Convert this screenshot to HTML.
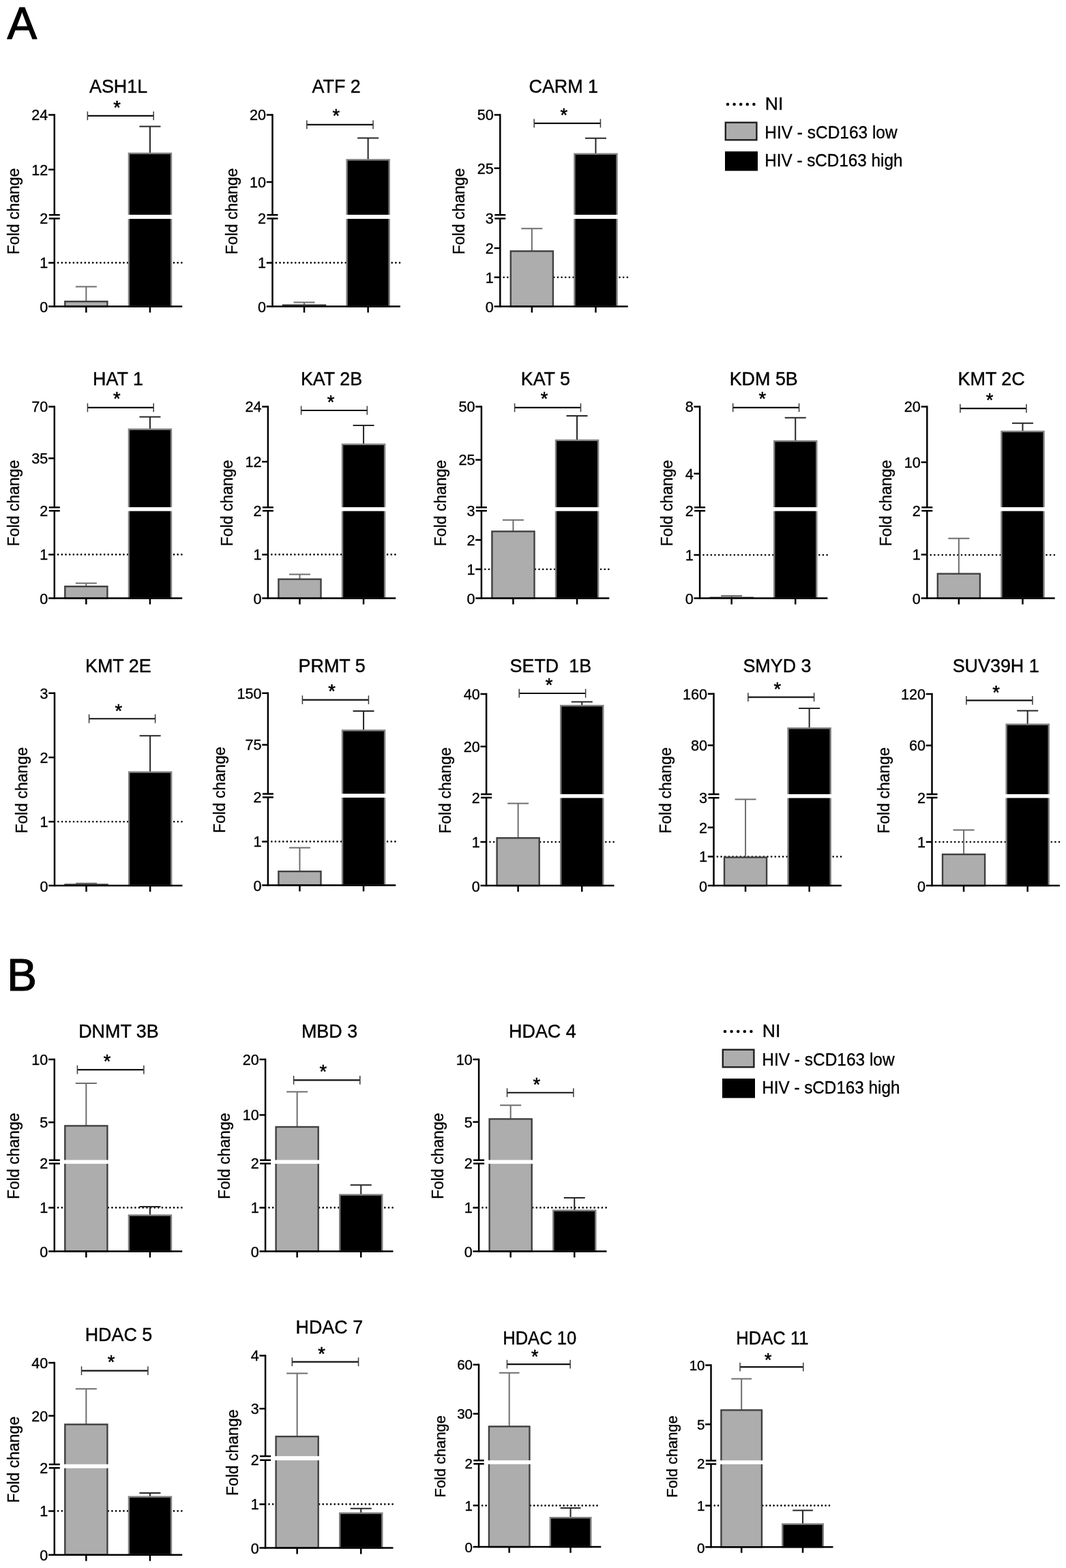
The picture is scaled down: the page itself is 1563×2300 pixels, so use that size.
<!DOCTYPE html>
<html lang="en">
<head>
<meta charset="utf-8">
<title>Figure</title>
<style>
html,body{margin:0;padding:0;background:#fff}
body{width:1563px;height:2300px;overflow:hidden}
svg{display:block}
svg text{font-family:'Liberation Sans', sans-serif;fill:#000}
svg text.k{stroke:#000;stroke-width:.35px}
svg text.t{stroke:#000;stroke-width:.4px}
svg text.a{stroke:#000;stroke-width:.55px}
svg text.p{stroke:#000;stroke-width:1.2px;stroke-linejoin:round}
</style>
</head>
<body>
<svg width="1563" height="2300" viewBox="0 0 1563 2300">
<rect width="1563" height="2300" fill="#fff"/>
<text transform="translate(10.6 56.9) scale(1 1.02)" font-size="65.5" class="p">A</text>
<text transform="translate(10.2 1452.7) scale(1 1.03)" font-size="65.5" class="p">B</text>
<g>
<line x1="85.2" y1="385.4" x2="266.8" y2="385.4" stroke="#000" stroke-width="2.6" stroke-linecap="round" stroke-dasharray="0.01 5.65"/>
<path d="M126.35 442V420.4M110.85 420.4H141.85" fill="none" stroke="#6e6e6e" stroke-width="2"/>
<path d="M219.95 224.8V185.6M204.45 185.6H235.45" fill="none" stroke="#262626" stroke-width="2"/>
<rect x="95.3" y="442.2" width="62.1" height="7.4" fill="#adadad" stroke="#404040" stroke-width="2.4"/>
<rect x="188.9" y="225" width="62.1" height="224.6" fill="#000000" stroke="#808080" stroke-width="2.4"/>
<rect x="186.7" y="315" width="66.5" height="6" fill="#fff"/>
<path d="M79.8 167.25V315.2M79.8 320.6V450.85" fill="none" stroke="#000" stroke-width="2.5"/>
<path d="M71.8 315.2H87.8M71.8 320.6H87.8" fill="none" stroke="#000" stroke-width="2.5"/>
<path d="M71.1 449.6H267.2" fill="none" stroke="#000" stroke-width="2.5"/>
<path d="M71.1 168.5H79.8M71.1 248.7H79.8M71.1 385.4H79.8M126.35 449.6V458.6M219.95 449.6V458.6" fill="none" stroke="#000" stroke-width="2.5"/>
<text x="70.36" y="176.34" font-size="21.6" text-anchor="end" class="k">24</text>
<text x="70.36" y="256.54" font-size="21.6" text-anchor="end" class="k">12</text>
<text x="70.36" y="328.04" font-size="21.6" text-anchor="end" class="k">2</text>
<text x="70.36" y="393.24" font-size="21.6" text-anchor="end" class="k">1</text>
<text x="70.36" y="458.24" font-size="21.6" text-anchor="end" class="k">0</text>
<text transform="translate(19.8 309.9) rotate(-90)" x="0" y="8" font-size="23" text-anchor="middle" class="k">Fold change</text>
<text transform="translate(173.56 135.7) scale(1 1.05)" font-size="26.9" text-anchor="middle" class="t" style="white-space:pre">ASH1L</text>
<path d="M128.36 169.87H225.19" fill="none" stroke="#111" stroke-width="2.2"/>
<path d="M128.36 163.47V176.27M225.19 163.47V176.27" fill="none" stroke="#3a3a3a" stroke-width="1.5"/>
<text x="171.53" y="166.68" font-size="27.3" text-anchor="middle" class="a">*</text>
</g>
<g>
<line x1="404.9" y1="385.4" x2="586.5" y2="385.4" stroke="#000" stroke-width="2.6" stroke-linecap="round" stroke-dasharray="0.01 5.65"/>
<path d="M446.05 447.4V443.4M430.55 443.4H461.55" fill="none" stroke="#6e6e6e" stroke-width="2"/>
<path d="M539.65 234.2V202.5M524.15 202.5H555.15" fill="none" stroke="#262626" stroke-width="2"/>
<rect x="413.8" y="446.4" width="64.5" height="3.2" fill="#404040"/>
<rect x="508.6" y="234.4" width="62.1" height="215.2" fill="#000000" stroke="#808080" stroke-width="2.4"/>
<rect x="506.4" y="315" width="66.5" height="6" fill="#fff"/>
<path d="M399.5 167.25V315.2M399.5 320.6V450.85" fill="none" stroke="#000" stroke-width="2.5"/>
<path d="M391.5 315.2H407.5M391.5 320.6H407.5" fill="none" stroke="#000" stroke-width="2.5"/>
<path d="M390.8 449.6H586.9" fill="none" stroke="#000" stroke-width="2.5"/>
<path d="M390.8 168.5H399.5M390.8 267H399.5M390.8 385.4H399.5M446.05 449.6V458.6M539.65 449.6V458.6" fill="none" stroke="#000" stroke-width="2.5"/>
<text x="390.06" y="176.34" font-size="21.6" text-anchor="end" class="k">20</text>
<text x="390.06" y="274.84" font-size="21.6" text-anchor="end" class="k">10</text>
<text x="390.06" y="328.04" font-size="21.6" text-anchor="end" class="k">2</text>
<text x="390.06" y="393.24" font-size="21.6" text-anchor="end" class="k">1</text>
<text x="390.06" y="458.24" font-size="21.6" text-anchor="end" class="k">0</text>
<text transform="translate(339.5 309.9) rotate(-90)" x="0" y="8" font-size="23" text-anchor="middle" class="k">Fold change</text>
<text transform="translate(493.13 135.7) scale(1 1.05)" font-size="26.9" text-anchor="middle" class="t" style="white-space:pre">ATF 2</text>
<path d="M449.87 182.93H547.06" fill="none" stroke="#111" stroke-width="2.2"/>
<path d="M449.87 176.53V189.33M547.06 176.53V189.33" fill="none" stroke="#3a3a3a" stroke-width="1.5"/>
<text x="492.87" y="179.16" font-size="27.3" text-anchor="middle" class="a">*</text>
</g>
<g>
<line x1="738.7" y1="406.8" x2="920.3" y2="406.8" stroke="#000" stroke-width="2.6" stroke-linecap="round" stroke-dasharray="0.01 5.65"/>
<path d="M779.85 368.2V335.3M764.35 335.3H795.35" fill="none" stroke="#6e6e6e" stroke-width="2"/>
<path d="M873.45 225.6V202.7M857.95 202.7H888.95" fill="none" stroke="#262626" stroke-width="2"/>
<rect x="748.8" y="368.4" width="62.1" height="81.2" fill="#adadad" stroke="#404040" stroke-width="2.4"/>
<rect x="842.4" y="225.8" width="62.1" height="223.8" fill="#000000" stroke="#808080" stroke-width="2.4"/>
<rect x="840.2" y="315" width="66.5" height="6" fill="#fff"/>
<path d="M733.3 167.25V315.2M733.3 320.6V450.85" fill="none" stroke="#000" stroke-width="2.5"/>
<path d="M725.3 315.2H741.3M725.3 320.6H741.3" fill="none" stroke="#000" stroke-width="2.5"/>
<path d="M724.6 449.6H920.7" fill="none" stroke="#000" stroke-width="2.5"/>
<path d="M724.6 168.5H733.3M724.6 246.8H733.3M724.6 363.9H733.3M724.6 406.8H733.3M779.85 449.6V458.6M873.45 449.6V458.6" fill="none" stroke="#000" stroke-width="2.5"/>
<text x="723.86" y="176.34" font-size="21.6" text-anchor="end" class="k">50</text>
<text x="723.86" y="254.64" font-size="21.6" text-anchor="end" class="k">25</text>
<text x="723.86" y="328.04" font-size="21.6" text-anchor="end" class="k">3</text>
<text x="723.86" y="371.74" font-size="21.6" text-anchor="end" class="k">2</text>
<text x="723.86" y="414.64" font-size="21.6" text-anchor="end" class="k">1</text>
<text x="723.86" y="458.24" font-size="21.6" text-anchor="end" class="k">0</text>
<text transform="translate(673.3 309.9) rotate(-90)" x="0" y="8" font-size="23" text-anchor="middle" class="k">Fold change</text>
<text transform="translate(826.26 135.7) scale(1 1.05)" font-size="26.9" text-anchor="middle" class="t" style="white-space:pre">CARM 1</text>
<path d="M783.16 180.96H880.43" fill="none" stroke="#111" stroke-width="2.2"/>
<path d="M783.16 174.56V187.36M880.43 174.56V187.36" fill="none" stroke="#3a3a3a" stroke-width="1.5"/>
<text x="826.87" y="177.64" font-size="27.3" text-anchor="middle" class="a">*</text>
</g>
<g>
<line x1="85.2" y1="813.4" x2="266.8" y2="813.4" stroke="#000" stroke-width="2.6" stroke-linecap="round" stroke-dasharray="0.01 5.65"/>
<path d="M126.35 860V855.4M110.85 855.4H141.85" fill="none" stroke="#6e6e6e" stroke-width="2"/>
<path d="M219.95 629.5V611.5M204.45 611.5H235.45" fill="none" stroke="#262626" stroke-width="2"/>
<rect x="95.3" y="860.2" width="62.1" height="17.4" fill="#adadad" stroke="#404040" stroke-width="2.4"/>
<rect x="188.9" y="629.7" width="62.1" height="247.9" fill="#000000" stroke="#808080" stroke-width="2.4"/>
<rect x="186.7" y="744" width="66.5" height="5.7" fill="#fff"/>
<path d="M79.8 595.25V744.2M79.8 749.3V878.85" fill="none" stroke="#000" stroke-width="2.5"/>
<path d="M71.8 744.2H87.8M71.8 749.3H87.8" fill="none" stroke="#000" stroke-width="2.5"/>
<path d="M71.1 877.6H267.2" fill="none" stroke="#000" stroke-width="2.5"/>
<path d="M71.1 596.5H79.8M71.1 672.2H79.8M71.1 813.4H79.8M126.35 877.6V886.6M219.95 877.6V886.6" fill="none" stroke="#000" stroke-width="2.5"/>
<text x="70.36" y="604.34" font-size="21.6" text-anchor="end" class="k">70</text>
<text x="70.36" y="680.04" font-size="21.6" text-anchor="end" class="k">35</text>
<text x="70.36" y="756.74" font-size="21.6" text-anchor="end" class="k">2</text>
<text x="70.36" y="821.24" font-size="21.6" text-anchor="end" class="k">1</text>
<text x="70.36" y="886.24" font-size="21.6" text-anchor="end" class="k">0</text>
<text transform="translate(19.8 737.9) rotate(-90)" x="0" y="8" font-size="23" text-anchor="middle" class="k">Fold change</text>
<text transform="translate(172.98 564.8) scale(1 1.05)" font-size="26.9" text-anchor="middle" class="t" style="white-space:pre">HAT 1</text>
<path d="M128.42 597.88H225.16" fill="none" stroke="#111" stroke-width="2.2"/>
<path d="M128.42 591.48V604.28M225.16 591.48V604.28" fill="none" stroke="#3a3a3a" stroke-width="1.5"/>
<text x="171.28" y="594.07" font-size="27.3" text-anchor="middle" class="a">*</text>
</g>
<g>
<line x1="398.3" y1="813.4" x2="579.9" y2="813.4" stroke="#000" stroke-width="2.6" stroke-linecap="round" stroke-dasharray="0.01 5.65"/>
<path d="M439.45 849.4V842.4M423.95 842.4H454.95" fill="none" stroke="#6e6e6e" stroke-width="2"/>
<path d="M533.05 651.6V624.1M517.55 624.1H548.55" fill="none" stroke="#262626" stroke-width="2"/>
<rect x="408.4" y="849.6" width="62.1" height="28" fill="#adadad" stroke="#404040" stroke-width="2.4"/>
<rect x="502" y="651.8" width="62.1" height="225.8" fill="#000000" stroke="#808080" stroke-width="2.4"/>
<rect x="499.8" y="744" width="66.5" height="5.7" fill="#fff"/>
<path d="M392.9 595.25V744.2M392.9 749.3V878.85" fill="none" stroke="#000" stroke-width="2.5"/>
<path d="M384.9 744.2H400.9M384.9 749.3H400.9" fill="none" stroke="#000" stroke-width="2.5"/>
<path d="M384.2 877.6H580.3" fill="none" stroke="#000" stroke-width="2.5"/>
<path d="M384.2 596.5H392.9M384.2 677.2H392.9M384.2 813.4H392.9M439.45 877.6V886.6M533.05 877.6V886.6" fill="none" stroke="#000" stroke-width="2.5"/>
<text x="383.46" y="604.34" font-size="21.6" text-anchor="end" class="k">24</text>
<text x="383.46" y="685.04" font-size="21.6" text-anchor="end" class="k">12</text>
<text x="383.46" y="756.74" font-size="21.6" text-anchor="end" class="k">2</text>
<text x="383.46" y="821.24" font-size="21.6" text-anchor="end" class="k">1</text>
<text x="383.46" y="886.24" font-size="21.6" text-anchor="end" class="k">0</text>
<text transform="translate(332.9 737.9) rotate(-90)" x="0" y="8" font-size="23" text-anchor="middle" class="k">Fold change</text>
<text transform="translate(485.98 564.8) scale(1 1.05)" font-size="26.9" text-anchor="middle" class="t" style="white-space:pre">KAT 2B</text>
<path d="M441.6 602H538.34" fill="none" stroke="#111" stroke-width="2.2"/>
<path d="M441.6 595.6V608.4M538.34 595.6V608.4" fill="none" stroke="#3a3a3a" stroke-width="1.5"/>
<text x="484.96" y="598.68" font-size="27.3" text-anchor="middle" class="a">*</text>
</g>
<g>
<line x1="711.3" y1="835" x2="892.9" y2="835" stroke="#000" stroke-width="2.6" stroke-linecap="round" stroke-dasharray="0.01 5.65"/>
<path d="M752.45 779.3V762.7M736.95 762.7H767.95" fill="none" stroke="#6e6e6e" stroke-width="2"/>
<path d="M846.05 645.6V610.1M830.55 610.1H861.55" fill="none" stroke="#262626" stroke-width="2"/>
<rect x="721.4" y="779.5" width="62.1" height="98.1" fill="#adadad" stroke="#404040" stroke-width="2.4"/>
<rect x="815" y="645.8" width="62.1" height="231.8" fill="#000000" stroke="#808080" stroke-width="2.4"/>
<rect x="812.8" y="744" width="66.5" height="5.7" fill="#fff"/>
<path d="M705.9 595.25V744.2M705.9 749.3V878.85" fill="none" stroke="#000" stroke-width="2.5"/>
<path d="M697.9 744.2H713.9M697.9 749.3H713.9" fill="none" stroke="#000" stroke-width="2.5"/>
<path d="M697.2 877.6H893.3" fill="none" stroke="#000" stroke-width="2.5"/>
<path d="M697.2 596.5H705.9M697.2 674.6H705.9M697.2 792H705.9M697.2 835H705.9M752.45 877.6V886.6M846.05 877.6V886.6" fill="none" stroke="#000" stroke-width="2.5"/>
<text x="696.46" y="604.34" font-size="21.6" text-anchor="end" class="k">50</text>
<text x="696.46" y="682.44" font-size="21.6" text-anchor="end" class="k">25</text>
<text x="696.46" y="756.74" font-size="21.6" text-anchor="end" class="k">3</text>
<text x="696.46" y="799.84" font-size="21.6" text-anchor="end" class="k">2</text>
<text x="696.46" y="842.84" font-size="21.6" text-anchor="end" class="k">1</text>
<text x="696.46" y="886.24" font-size="21.6" text-anchor="end" class="k">0</text>
<text transform="translate(645.9 737.9) rotate(-90)" x="0" y="8" font-size="23" text-anchor="middle" class="k">Fold change</text>
<text transform="translate(799.83 564.8) scale(1 1.05)" font-size="26.9" text-anchor="middle" class="t" style="white-space:pre">KAT 5</text>
<path d="M754.59 597.97H851.48" fill="none" stroke="#111" stroke-width="2.2"/>
<path d="M754.59 591.57V604.37M851.48 591.57V604.37" fill="none" stroke="#3a3a3a" stroke-width="1.5"/>
<text x="797.97" y="594.01" font-size="27.3" text-anchor="middle" class="a">*</text>
</g>
<g>
<line x1="1031.5" y1="814" x2="1213.1" y2="814" stroke="#000" stroke-width="2.6" stroke-linecap="round" stroke-dasharray="0.01 5.65"/>
<path d="M1072.65 876.5V874M1057.15 874H1088.15" fill="none" stroke="#6e6e6e" stroke-width="2"/>
<path d="M1166.25 646.8V612.7M1150.75 612.7H1181.75" fill="none" stroke="#262626" stroke-width="2"/>
<rect x="1040.4" y="875.5" width="64.5" height="2.1" fill="#404040"/>
<rect x="1135.2" y="647" width="62.1" height="230.6" fill="#000000" stroke="#808080" stroke-width="2.4"/>
<rect x="1133" y="744" width="66.5" height="5.7" fill="#fff"/>
<path d="M1026.1 595.25V744.2M1026.1 749.3V878.85" fill="none" stroke="#000" stroke-width="2.5"/>
<path d="M1018.1 744.2H1034.1M1018.1 749.3H1034.1" fill="none" stroke="#000" stroke-width="2.5"/>
<path d="M1017.4 877.6H1213.5" fill="none" stroke="#000" stroke-width="2.5"/>
<path d="M1017.4 596.5H1026.1M1017.4 694.8H1026.1M1017.4 814H1026.1M1072.65 877.6V886.6M1166.25 877.6V886.6" fill="none" stroke="#000" stroke-width="2.5"/>
<text x="1016.66" y="604.34" font-size="21.6" text-anchor="end" class="k">8</text>
<text x="1016.66" y="702.64" font-size="21.6" text-anchor="end" class="k">4</text>
<text x="1016.66" y="756.74" font-size="21.6" text-anchor="end" class="k">2</text>
<text x="1016.66" y="821.84" font-size="21.6" text-anchor="end" class="k">1</text>
<text x="1016.66" y="886.24" font-size="21.6" text-anchor="end" class="k">0</text>
<text transform="translate(978.4 737.9) rotate(-90)" x="0" y="8" font-size="23" text-anchor="middle" class="k">Fold change</text>
<text transform="translate(1119.72 564.8) scale(1 1.05)" font-size="26.9" text-anchor="middle" class="t" style="white-space:pre">KDM 5B</text>
<path d="M1074.69 597.88H1171.61" fill="none" stroke="#111" stroke-width="2.2"/>
<path d="M1074.69 591.48V604.28M1171.61 591.48V604.28" fill="none" stroke="#3a3a3a" stroke-width="1.5"/>
<text x="1117.87" y="594.07" font-size="27.3" text-anchor="middle" class="a">*</text>
</g>
<g>
<line x1="1364.7" y1="814" x2="1546.3" y2="814" stroke="#000" stroke-width="2.6" stroke-linecap="round" stroke-dasharray="0.01 5.65"/>
<path d="M1405.85 841.4V789.7M1390.35 789.7H1421.35" fill="none" stroke="#6e6e6e" stroke-width="2"/>
<path d="M1499.45 632.7V620.7M1483.95 620.7H1514.95" fill="none" stroke="#262626" stroke-width="2"/>
<rect x="1374.8" y="841.6" width="62.1" height="36" fill="#adadad" stroke="#404040" stroke-width="2.4"/>
<rect x="1468.4" y="632.9" width="62.1" height="244.7" fill="#000000" stroke="#808080" stroke-width="2.4"/>
<rect x="1466.2" y="744" width="66.5" height="5.7" fill="#fff"/>
<path d="M1359.3 595.25V744.2M1359.3 749.3V878.85" fill="none" stroke="#000" stroke-width="2.5"/>
<path d="M1351.3 744.2H1367.3M1351.3 749.3H1367.3" fill="none" stroke="#000" stroke-width="2.5"/>
<path d="M1350.6 877.6H1546.7" fill="none" stroke="#000" stroke-width="2.5"/>
<path d="M1350.6 596.5H1359.3M1350.6 677.9H1359.3M1350.6 813.6H1359.3M1405.85 877.6V886.6M1499.45 877.6V886.6" fill="none" stroke="#000" stroke-width="2.5"/>
<text x="1349.86" y="604.34" font-size="21.6" text-anchor="end" class="k">20</text>
<text x="1349.86" y="685.74" font-size="21.6" text-anchor="end" class="k">10</text>
<text x="1349.86" y="756.74" font-size="21.6" text-anchor="end" class="k">2</text>
<text x="1349.86" y="821.44" font-size="21.6" text-anchor="end" class="k">1</text>
<text x="1349.86" y="886.24" font-size="21.6" text-anchor="end" class="k">0</text>
<text transform="translate(1299.3 737.9) rotate(-90)" x="0" y="8" font-size="23" text-anchor="middle" class="k">Fold change</text>
<text transform="translate(1453.63 564.8) scale(1 1.05)" font-size="26.9" text-anchor="middle" class="t" style="white-space:pre">KMT 2C</text>
<path d="M1407.87 599.05H1504.88" fill="none" stroke="#111" stroke-width="2.2"/>
<path d="M1407.87 592.65V605.45M1504.88 592.65V605.45" fill="none" stroke="#3a3a3a" stroke-width="1.5"/>
<text x="1451.18" y="595.59" font-size="27.3" text-anchor="middle" class="a">*</text>
</g>
<g>
<line x1="85.4" y1="1205.3" x2="267" y2="1205.3" stroke="#000" stroke-width="2.6" stroke-linecap="round" stroke-dasharray="0.01 5.65"/>
<path d="M126.55 1297.3V1295.7M111.05 1295.7H142.05" fill="none" stroke="#6e6e6e" stroke-width="2"/>
<path d="M220.15 1132.4V1079.3M204.65 1079.3H235.65" fill="none" stroke="#262626" stroke-width="2"/>
<rect x="94.3" y="1296.3" width="64.5" height="2.7" fill="#404040"/>
<rect x="189.1" y="1132.6" width="62.1" height="166.4" fill="#000000" stroke="#808080" stroke-width="2.4"/>
<path d="M80 1015.45V1300.25" fill="none" stroke="#000" stroke-width="2.5"/>
<path d="M71.3 1299H267.4" fill="none" stroke="#000" stroke-width="2.5"/>
<path d="M71.3 1016.7H80M71.3 1110.9H80M71.3 1205.3H80M126.55 1299V1308M220.15 1299V1308" fill="none" stroke="#000" stroke-width="2.5"/>
<text x="70.56" y="1024.54" font-size="21.6" text-anchor="end" class="k">3</text>
<text x="70.56" y="1118.74" font-size="21.6" text-anchor="end" class="k">2</text>
<text x="70.56" y="1213.14" font-size="21.6" text-anchor="end" class="k">1</text>
<text x="70.56" y="1307.64" font-size="21.6" text-anchor="end" class="k">0</text>
<text transform="translate(32.3 1159.3) rotate(-90)" x="0" y="8" font-size="23" text-anchor="middle" class="k">Fold change</text>
<text transform="translate(173.3 986.15) scale(1 1.05)" font-size="26.9" text-anchor="middle" class="t" style="white-space:pre">KMT 2E</text>
<path d="M130.6 1054.25H227.61" fill="none" stroke="#111" stroke-width="2.2"/>
<path d="M130.6 1047.85V1060.65M227.61 1047.85V1060.65" fill="none" stroke="#3a3a3a" stroke-width="1.5"/>
<text x="173.69" y="1051.55" font-size="27.3" text-anchor="middle" class="a">*</text>
</g>
<g>
<line x1="398.3" y1="1234.4" x2="579.9" y2="1234.4" stroke="#000" stroke-width="2.6" stroke-linecap="round" stroke-dasharray="0.01 5.65"/>
<path d="M439.45 1278V1243.4M423.95 1243.4H454.95" fill="none" stroke="#6e6e6e" stroke-width="2"/>
<path d="M533.05 1071.2V1043.1M517.55 1043.1H548.55" fill="none" stroke="#262626" stroke-width="2"/>
<rect x="408.4" y="1278.2" width="62.1" height="20.3" fill="#adadad" stroke="#404040" stroke-width="2.4"/>
<rect x="502" y="1071.4" width="62.1" height="227.1" fill="#000000" stroke="#808080" stroke-width="2.4"/>
<rect x="499.8" y="1164.3" width="66.5" height="5.7" fill="#fff"/>
<path d="M392.9 1015.45V1164.5M392.9 1169.6V1299.75" fill="none" stroke="#000" stroke-width="2.5"/>
<path d="M384.9 1164.5H400.9M384.9 1169.6H400.9" fill="none" stroke="#000" stroke-width="2.5"/>
<path d="M384.2 1298.5H580.3" fill="none" stroke="#000" stroke-width="2.5"/>
<path d="M384.2 1016.7H392.9M384.2 1092.6H392.9M384.2 1234.4H392.9M439.45 1298.5V1307.5M533.05 1298.5V1307.5" fill="none" stroke="#000" stroke-width="2.5"/>
<text x="383.46" y="1024.54" font-size="21.6" text-anchor="end" class="k">150</text>
<text x="383.46" y="1100.44" font-size="21.6" text-anchor="end" class="k">75</text>
<text x="383.46" y="1177.04" font-size="21.6" text-anchor="end" class="k">2</text>
<text x="383.46" y="1242.24" font-size="21.6" text-anchor="end" class="k">1</text>
<text x="383.46" y="1307.14" font-size="21.6" text-anchor="end" class="k">0</text>
<text transform="translate(321.9 1158.8) rotate(-90)" x="0" y="8" font-size="23" text-anchor="middle" class="k">Fold change</text>
<text transform="translate(486.59 986.15) scale(1 1.05)" font-size="26.9" text-anchor="middle" class="t" style="white-space:pre">PRMT 5</text>
<path d="M443.42 1026.66H540.43" fill="none" stroke="#111" stroke-width="2.2"/>
<path d="M443.42 1020.26V1033.06M540.43 1020.26V1033.06" fill="none" stroke="#3a3a3a" stroke-width="1.5"/>
<text x="486.55" y="1023.38" font-size="27.3" text-anchor="middle" class="a">*</text>
</g>
<g>
<line x1="718.5" y1="1235" x2="900.1" y2="1235" stroke="#000" stroke-width="2.6" stroke-linecap="round" stroke-dasharray="0.01 5.65"/>
<path d="M759.65 1229V1178.5M744.15 1178.5H775.15" fill="none" stroke="#6e6e6e" stroke-width="2"/>
<path d="M853.25 1034.9V1029.5M837.75 1029.5H868.75" fill="none" stroke="#262626" stroke-width="2"/>
<rect x="728.6" y="1229.2" width="62.1" height="69.9" fill="#adadad" stroke="#404040" stroke-width="2.4"/>
<rect x="822.2" y="1035.1" width="62.1" height="264" fill="#000000" stroke="#808080" stroke-width="2.4"/>
<rect x="820" y="1164.9" width="66.5" height="5.6" fill="#fff"/>
<path d="M713.1 1016.75V1165.1M713.1 1170.1V1300.35" fill="none" stroke="#000" stroke-width="2.5"/>
<path d="M705.1 1165.1H721.1M705.1 1170.1H721.1" fill="none" stroke="#000" stroke-width="2.5"/>
<path d="M704.4 1299.1H900.5" fill="none" stroke="#000" stroke-width="2.5"/>
<path d="M704.4 1018H713.1M704.4 1095.1H713.1M704.4 1235H713.1M759.65 1299.1V1308.1M853.25 1299.1V1308.1" fill="none" stroke="#000" stroke-width="2.5"/>
<text x="703.66" y="1025.84" font-size="21.6" text-anchor="end" class="k">40</text>
<text x="703.66" y="1102.94" font-size="21.6" text-anchor="end" class="k">20</text>
<text x="703.66" y="1177.54" font-size="21.6" text-anchor="end" class="k">2</text>
<text x="703.66" y="1242.84" font-size="21.6" text-anchor="end" class="k">1</text>
<text x="703.66" y="1307.74" font-size="21.6" text-anchor="end" class="k">0</text>
<text transform="translate(653.1 1159.4) rotate(-90)" x="0" y="8" font-size="23" text-anchor="middle" class="k">Fold change</text>
<text transform="translate(807.34 986.15) scale(1 1.05)" font-size="26.9" text-anchor="middle" class="t" style="white-space:pre">SETD  1B</text>
<path d="M761.25 1016.98H858.61" fill="none" stroke="#111" stroke-width="2.2"/>
<path d="M761.25 1010.58V1023.38M858.61 1010.58V1023.38" fill="none" stroke="#3a3a3a" stroke-width="1.5"/>
<text x="805.05" y="1013.8" font-size="27.3" text-anchor="middle" class="a">*</text>
</g>
<g>
<line x1="1051.9" y1="1256.6" x2="1233.5" y2="1256.6" stroke="#000" stroke-width="2.6" stroke-linecap="round" stroke-dasharray="0.01 5.65"/>
<path d="M1093.05 1257.4V1172.6M1077.55 1172.6H1108.55" fill="none" stroke="#6e6e6e" stroke-width="2"/>
<path d="M1186.65 1068V1039M1171.15 1039H1202.15" fill="none" stroke="#262626" stroke-width="2"/>
<rect x="1062" y="1257.6" width="62.1" height="41.5" fill="#adadad" stroke="#404040" stroke-width="2.4"/>
<rect x="1155.6" y="1068.2" width="62.1" height="230.9" fill="#000000" stroke="#808080" stroke-width="2.4"/>
<rect x="1153.4" y="1164.9" width="66.5" height="5.7" fill="#fff"/>
<path d="M1046.5 1016.55V1165.1M1046.5 1170.2V1300.35" fill="none" stroke="#000" stroke-width="2.5"/>
<path d="M1038.5 1165.1H1054.5M1038.5 1170.2H1054.5" fill="none" stroke="#000" stroke-width="2.5"/>
<path d="M1037.8 1299.1H1233.9" fill="none" stroke="#000" stroke-width="2.5"/>
<path d="M1037.8 1017.8H1046.5M1037.8 1093.3H1046.5M1037.8 1213.8H1046.5M1037.8 1256.5H1046.5M1093.05 1299.1V1308.1M1186.65 1299.1V1308.1" fill="none" stroke="#000" stroke-width="2.5"/>
<text x="1037.06" y="1025.64" font-size="21.6" text-anchor="end" class="k">160</text>
<text x="1037.06" y="1101.14" font-size="21.6" text-anchor="end" class="k">80</text>
<text x="1037.06" y="1177.64" font-size="21.6" text-anchor="end" class="k">3</text>
<text x="1037.06" y="1221.64" font-size="21.6" text-anchor="end" class="k">2</text>
<text x="1037.06" y="1264.34" font-size="21.6" text-anchor="end" class="k">1</text>
<text x="1037.06" y="1307.74" font-size="21.6" text-anchor="end" class="k">0</text>
<text transform="translate(975.5 1159.4) rotate(-90)" x="0" y="8" font-size="23" text-anchor="middle" class="k">Fold change</text>
<text transform="translate(1139.47 986.15) scale(1 1.05)" font-size="26.9" text-anchor="middle" class="t" style="white-space:pre">SMYD 3</text>
<path d="M1096.87 1022.63H1193.61" fill="none" stroke="#111" stroke-width="2.2"/>
<path d="M1096.87 1016.23V1029.03M1193.61 1016.23V1029.03" fill="none" stroke="#3a3a3a" stroke-width="1.5"/>
<text x="1139.78" y="1020.34" font-size="27.3" text-anchor="middle" class="a">*</text>
</g>
<g>
<line x1="1371.9" y1="1235" x2="1553.5" y2="1235" stroke="#000" stroke-width="2.6" stroke-linecap="round" stroke-dasharray="0.01 5.65"/>
<path d="M1413.05 1253V1217.4M1397.55 1217.4H1428.55" fill="none" stroke="#6e6e6e" stroke-width="2"/>
<path d="M1506.65 1062.4V1042.6M1491.15 1042.6H1522.15" fill="none" stroke="#262626" stroke-width="2"/>
<rect x="1382" y="1253.2" width="62.1" height="45.9" fill="#adadad" stroke="#404040" stroke-width="2.4"/>
<rect x="1475.6" y="1062.6" width="62.1" height="236.5" fill="#000000" stroke="#808080" stroke-width="2.4"/>
<rect x="1473.4" y="1164.9" width="66.5" height="5.6" fill="#fff"/>
<path d="M1366.5 1016.75V1165.1M1366.5 1170.1V1300.35" fill="none" stroke="#000" stroke-width="2.5"/>
<path d="M1358.5 1165.1H1374.5M1358.5 1170.1H1374.5" fill="none" stroke="#000" stroke-width="2.5"/>
<path d="M1357.8 1299.1H1553.9" fill="none" stroke="#000" stroke-width="2.5"/>
<path d="M1357.8 1018H1366.5M1357.8 1093.4H1366.5M1357.8 1235H1366.5M1413.05 1299.1V1308.1M1506.65 1299.1V1308.1" fill="none" stroke="#000" stroke-width="2.5"/>
<text x="1357.06" y="1025.84" font-size="21.6" text-anchor="end" class="k">120</text>
<text x="1357.06" y="1101.24" font-size="21.6" text-anchor="end" class="k">60</text>
<text x="1357.06" y="1177.54" font-size="21.6" text-anchor="end" class="k">2</text>
<text x="1357.06" y="1242.84" font-size="21.6" text-anchor="end" class="k">1</text>
<text x="1357.06" y="1307.74" font-size="21.6" text-anchor="end" class="k">0</text>
<text transform="translate(1295.5 1159.4) rotate(-90)" x="0" y="8" font-size="23" text-anchor="middle" class="k">Fold change</text>
<text transform="translate(1460.16 986.15) scale(1 1.05)" font-size="26.9" text-anchor="middle" class="t" style="white-space:pre">SUV39H 1</text>
<path d="M1416.87 1027.38H1513.88" fill="none" stroke="#111" stroke-width="2.2"/>
<path d="M1416.87 1020.98V1033.78M1513.88 1020.98V1033.78" fill="none" stroke="#3a3a3a" stroke-width="1.5"/>
<text x="1460.58" y="1024.95" font-size="27.3" text-anchor="middle" class="a">*</text>
</g>
<g>
<line x1="85.2" y1="1771.4" x2="266.8" y2="1771.4" stroke="#000" stroke-width="2.6" stroke-linecap="round" stroke-dasharray="0.01 5.65"/>
<path d="M126.35 1651.2V1589.1M110.85 1589.1H141.85" fill="none" stroke="#6e6e6e" stroke-width="2"/>
<path d="M219.95 1782.4V1770M204.45 1770H235.45" fill="none" stroke="#262626" stroke-width="2"/>
<rect x="95.3" y="1651.4" width="62.1" height="184.1" fill="#adadad" stroke="#404040" stroke-width="2.4"/>
<rect x="93.1" y="1701.5" width="66.5" height="5.6" fill="#fff"/>
<rect x="188.9" y="1782.6" width="62.1" height="52.9" fill="#000000" stroke="#808080" stroke-width="2.4"/>
<path d="M79.8 1552.85V1701.7M79.8 1706.7V1836.75" fill="none" stroke="#000" stroke-width="2.5"/>
<path d="M71.8 1701.7H87.8M71.8 1706.7H87.8" fill="none" stroke="#000" stroke-width="2.5"/>
<path d="M71.1 1835.5H267.2" fill="none" stroke="#000" stroke-width="2.5"/>
<path d="M71.1 1554.1H79.8M71.1 1646.2H79.8M71.1 1771.4H79.8M126.35 1835.5V1844.5M219.95 1835.5V1844.5" fill="none" stroke="#000" stroke-width="2.5"/>
<text x="70.36" y="1561.94" font-size="21.6" text-anchor="end" class="k">10</text>
<text x="70.36" y="1654.04" font-size="21.6" text-anchor="end" class="k">5</text>
<text x="70.36" y="1714.14" font-size="21.6" text-anchor="end" class="k">2</text>
<text x="70.36" y="1779.24" font-size="21.6" text-anchor="end" class="k">1</text>
<text x="70.36" y="1844.14" font-size="21.6" text-anchor="end" class="k">0</text>
<text transform="translate(19.8 1695.8) rotate(-90)" x="0" y="8" font-size="23" text-anchor="middle" class="k">Fold change</text>
<text transform="translate(173.92 1521.95) scale(1 1.05)" font-size="26.9" text-anchor="middle" class="t" style="white-space:pre">DNMT 3B</text>
<path d="M113.44 1569.17H210.89" fill="none" stroke="#111" stroke-width="2.2"/>
<path d="M113.44 1562.77V1575.57M210.89 1562.77V1575.57" fill="none" stroke="#3a3a3a" stroke-width="1.5"/>
<text x="157.15" y="1565.71" font-size="27.3" text-anchor="middle" class="a">*</text>
</g>
<g>
<line x1="394.5" y1="1771.4" x2="576.1" y2="1771.4" stroke="#000" stroke-width="2.6" stroke-linecap="round" stroke-dasharray="0.01 5.65"/>
<path d="M435.65 1652.8V1601.6M420.15 1601.6H451.15" fill="none" stroke="#6e6e6e" stroke-width="2"/>
<path d="M529.25 1752.4V1738.3M513.75 1738.3H544.75" fill="none" stroke="#262626" stroke-width="2"/>
<rect x="404.6" y="1653" width="62.1" height="182.5" fill="#adadad" stroke="#404040" stroke-width="2.4"/>
<rect x="402.4" y="1701.5" width="66.5" height="5.6" fill="#fff"/>
<rect x="498.2" y="1752.6" width="62.1" height="82.9" fill="#000000" stroke="#808080" stroke-width="2.4"/>
<path d="M389.1 1552.85V1701.7M389.1 1706.7V1836.75" fill="none" stroke="#000" stroke-width="2.5"/>
<path d="M381.1 1701.7H397.1M381.1 1706.7H397.1" fill="none" stroke="#000" stroke-width="2.5"/>
<path d="M380.4 1835.5H576.5" fill="none" stroke="#000" stroke-width="2.5"/>
<path d="M380.4 1554.1H389.1M380.4 1635.6H389.1M380.4 1771.4H389.1M435.65 1835.5V1844.5M529.25 1835.5V1844.5" fill="none" stroke="#000" stroke-width="2.5"/>
<text x="379.66" y="1561.94" font-size="21.6" text-anchor="end" class="k">20</text>
<text x="379.66" y="1643.44" font-size="21.6" text-anchor="end" class="k">10</text>
<text x="379.66" y="1714.14" font-size="21.6" text-anchor="end" class="k">2</text>
<text x="379.66" y="1779.24" font-size="21.6" text-anchor="end" class="k">1</text>
<text x="379.66" y="1844.14" font-size="21.6" text-anchor="end" class="k">0</text>
<text transform="translate(329.1 1695.8) rotate(-90)" x="0" y="8" font-size="23" text-anchor="middle" class="k">Fold change</text>
<text transform="translate(483.04 1521.95) scale(1 1.05)" font-size="26.9" text-anchor="middle" class="t" style="white-space:pre">MBD 3</text>
<path d="M430.6 1584.3H527.79" fill="none" stroke="#111" stroke-width="2.2"/>
<path d="M430.6 1577.9V1590.7M527.79 1577.9V1590.7" fill="none" stroke="#3a3a3a" stroke-width="1.5"/>
<text x="473.91" y="1581.39" font-size="27.3" text-anchor="middle" class="a">*</text>
</g>
<g>
<line x1="707.5" y1="1771.4" x2="889.1" y2="1771.4" stroke="#000" stroke-width="2.6" stroke-linecap="round" stroke-dasharray="0.01 5.65"/>
<path d="M748.65 1641.2V1621.2M733.15 1621.2H764.15" fill="none" stroke="#6e6e6e" stroke-width="2"/>
<path d="M842.25 1775.4V1757M826.75 1757H857.75" fill="none" stroke="#262626" stroke-width="2"/>
<rect x="717.6" y="1641.4" width="62.1" height="194.1" fill="#adadad" stroke="#404040" stroke-width="2.4"/>
<rect x="715.4" y="1701.5" width="66.5" height="5.6" fill="#fff"/>
<rect x="811.2" y="1775.6" width="62.1" height="59.9" fill="#000000" stroke="#808080" stroke-width="2.4"/>
<path d="M702.1 1552.85V1701.7M702.1 1706.7V1836.75" fill="none" stroke="#000" stroke-width="2.5"/>
<path d="M694.1 1701.7H710.1M694.1 1706.7H710.1" fill="none" stroke="#000" stroke-width="2.5"/>
<path d="M693.4 1835.5H889.5" fill="none" stroke="#000" stroke-width="2.5"/>
<path d="M693.4 1554.1H702.1M693.4 1645.8H702.1M693.4 1771.4H702.1M748.65 1835.5V1844.5M842.25 1835.5V1844.5" fill="none" stroke="#000" stroke-width="2.5"/>
<text x="692.66" y="1561.94" font-size="21.6" text-anchor="end" class="k">10</text>
<text x="692.66" y="1653.64" font-size="21.6" text-anchor="end" class="k">5</text>
<text x="692.66" y="1714.14" font-size="21.6" text-anchor="end" class="k">2</text>
<text x="692.66" y="1779.24" font-size="21.6" text-anchor="end" class="k">1</text>
<text x="692.66" y="1844.14" font-size="21.6" text-anchor="end" class="k">0</text>
<text transform="translate(642.1 1695.8) rotate(-90)" x="0" y="8" font-size="23" text-anchor="middle" class="k">Fold change</text>
<text transform="translate(795.38 1521.95) scale(1 1.05)" font-size="26.9" text-anchor="middle" class="t" style="white-space:pre">HDAC 4</text>
<path d="M743.54 1602.76H840.82" fill="none" stroke="#111" stroke-width="2.2"/>
<path d="M743.54 1596.36V1609.16M840.82 1596.36V1609.16" fill="none" stroke="#3a3a3a" stroke-width="1.5"/>
<text x="786.9" y="1600.38" font-size="27.3" text-anchor="middle" class="a">*</text>
</g>
<g>
<line x1="85.2" y1="2216.4" x2="266.8" y2="2216.4" stroke="#000" stroke-width="2.6" stroke-linecap="round" stroke-dasharray="0.01 5.65"/>
<path d="M126.35 2089.2V2037.2M110.85 2037.2H141.85" fill="none" stroke="#6e6e6e" stroke-width="2"/>
<path d="M219.95 2195.4V2190M204.45 2190H235.45" fill="none" stroke="#262626" stroke-width="2"/>
<rect x="95.3" y="2089.4" width="62.1" height="191.4" fill="#adadad" stroke="#404040" stroke-width="2.4"/>
<rect x="93.1" y="2147.8" width="66.5" height="5.8" fill="#fff"/>
<rect x="188.9" y="2195.6" width="62.1" height="85.2" fill="#000000" stroke="#808080" stroke-width="2.4"/>
<path d="M79.8 1997.85V2148M79.8 2153.2V2282.05" fill="none" stroke="#000" stroke-width="2.5"/>
<path d="M71.8 2148H87.8M71.8 2153.2H87.8" fill="none" stroke="#000" stroke-width="2.5"/>
<path d="M71.1 2280.8H267.2" fill="none" stroke="#000" stroke-width="2.5"/>
<path d="M71.1 1999.1H79.8M71.1 2076.8H79.8M71.1 2216.4H79.8M126.35 2280.8V2289.8M219.95 2280.8V2289.8" fill="none" stroke="#000" stroke-width="2.5"/>
<text x="70.36" y="2006.94" font-size="21.6" text-anchor="end" class="k">40</text>
<text x="70.36" y="2084.64" font-size="21.6" text-anchor="end" class="k">20</text>
<text x="70.36" y="2160.64" font-size="21.6" text-anchor="end" class="k">2</text>
<text x="70.36" y="2224.24" font-size="21.6" text-anchor="end" class="k">1</text>
<text x="70.36" y="2289.44" font-size="21.6" text-anchor="end" class="k">0</text>
<text transform="translate(19.8 2141.1) rotate(-90)" x="0" y="8" font-size="23" text-anchor="middle" class="k">Fold change</text>
<text transform="translate(173.97 1966.95) scale(1 1.05)" font-size="26.9" text-anchor="middle" class="t" style="white-space:pre">HDAC 5</text>
<path d="M119.53 2010.58H216.89" fill="none" stroke="#111" stroke-width="2.2"/>
<path d="M119.53 2004.18V2016.98M216.89 2004.18V2016.98" fill="none" stroke="#3a3a3a" stroke-width="1.5"/>
<text x="163.02" y="2007.26" font-size="27.3" text-anchor="middle" class="a">*</text>
</g>
<g>
<line x1="394.5" y1="2206.4" x2="576.1" y2="2206.4" stroke="#000" stroke-width="2.6" stroke-linecap="round" stroke-dasharray="0.01 5.65"/>
<path d="M435.65 2106.9V2014.5M420.15 2014.5H451.15" fill="none" stroke="#6e6e6e" stroke-width="2"/>
<path d="M529.25 2219.4V2212.8M513.75 2212.8H544.75" fill="none" stroke="#262626" stroke-width="2"/>
<rect x="404.6" y="2107.1" width="62.1" height="163.4" fill="#adadad" stroke="#404040" stroke-width="2.4"/>
<rect x="402.4" y="2135.9" width="66.5" height="6.2" fill="#fff"/>
<rect x="498.2" y="2219.6" width="62.1" height="50.9" fill="#000000" stroke="#808080" stroke-width="2.4"/>
<path d="M389.1 1987.25V2136.1M389.1 2141.7V2271.75" fill="none" stroke="#000" stroke-width="2.5"/>
<path d="M381.1 2136.1H397.1M381.1 2141.7H397.1" fill="none" stroke="#000" stroke-width="2.5"/>
<path d="M380.4 2270.5H576.5" fill="none" stroke="#000" stroke-width="2.5"/>
<path d="M380.4 1988.5H389.1M380.4 2066.2H389.1M380.4 2206.4H389.1M435.65 2270.5V2279.5M529.25 2270.5V2279.5" fill="none" stroke="#000" stroke-width="2.5"/>
<text x="379.66" y="1996.34" font-size="21.6" text-anchor="end" class="k">4</text>
<text x="379.66" y="2074.04" font-size="21.6" text-anchor="end" class="k">3</text>
<text x="379.66" y="2149.14" font-size="21.6" text-anchor="end" class="k">2</text>
<text x="379.66" y="2214.24" font-size="21.6" text-anchor="end" class="k">1</text>
<text x="379.66" y="2279.14" font-size="21.6" text-anchor="end" class="k">0</text>
<text transform="translate(341.4 2130.8) rotate(-90)" x="0" y="8" font-size="23" text-anchor="middle" class="k">Fold change</text>
<text transform="translate(482.81 1956) scale(1 1.05)" font-size="26.9" text-anchor="middle" class="t" style="white-space:pre">HDAC 7</text>
<path d="M428.36 1997.69H525.55" fill="none" stroke="#111" stroke-width="2.2"/>
<path d="M428.36 1991.29V2004.09M525.55 1991.29V2004.09" fill="none" stroke="#3a3a3a" stroke-width="1.5"/>
<text x="471.63" y="1994.68" font-size="27.3" text-anchor="middle" class="a">*</text>
</g>
<g>
<line x1="707.18" y1="2208.4" x2="880.9" y2="2208.4" stroke="#000" stroke-width="2.6" stroke-linecap="round" stroke-dasharray="0.01 5.42"/>
<path d="M746.69 2092.2V2013.7M731.81 2013.7H761.57" fill="none" stroke="#6e6e6e" stroke-width="2"/>
<path d="M836.54 2226V2212M821.66 2212H851.42" fill="none" stroke="#262626" stroke-width="2"/>
<rect x="716.93" y="2092.4" width="59.52" height="176.7" fill="#adadad" stroke="#404040" stroke-width="2.4"/>
<rect x="714.73" y="2142.1" width="63.92" height="5.6" fill="#fff"/>
<rect x="806.78" y="2226.2" width="59.52" height="42.9" fill="#000000" stroke="#808080" stroke-width="2.4"/>
<path d="M702 2000.45V2142.3M702 2147.3V2270.35" fill="none" stroke="#000" stroke-width="2.5"/>
<path d="M694.32 2142.3H709.68M694.32 2147.3H709.68" fill="none" stroke="#000" stroke-width="2.5"/>
<path d="M693.65 2269.1H881.3" fill="none" stroke="#000" stroke-width="2.5"/>
<path d="M693.65 2001.7H702M693.65 2073.8H702M693.65 2208.2H702M746.69 2269.1V2277.66M836.54 2269.1V2277.66" fill="none" stroke="#000" stroke-width="2.5"/>
<text x="692.99" y="2009.17" font-size="20.54" text-anchor="end" class="k">60</text>
<text x="692.99" y="2081.27" font-size="20.54" text-anchor="end" class="k">30</text>
<text x="692.99" y="2154.37" font-size="20.54" text-anchor="end" class="k">2</text>
<text x="692.99" y="2215.67" font-size="20.54" text-anchor="end" class="k">1</text>
<text x="692.99" y="2277.37" font-size="20.54" text-anchor="end" class="k">0</text>
<text transform="translate(645.4 2136.28) rotate(-90)" x="0" y="7.61" font-size="21.87" text-anchor="middle" class="k">Fold change</text>
<text transform="translate(791.17 1971.65) scale(1 1.05)" font-size="25.58" text-anchor="middle" class="t" style="white-space:pre">HDAC 10</text>
<path d="M743.44 2001.05H836.1" fill="none" stroke="#111" stroke-width="2.2"/>
<path d="M743.44 1994.65V2007.45M836.1 1994.65V2007.45" fill="none" stroke="#3a3a3a" stroke-width="1.5"/>
<text x="784.32" y="1998.92" font-size="26.75" text-anchor="middle" class="a">*</text>
</g>
<g>
<line x1="1047.68" y1="2208.4" x2="1221.1" y2="2208.4" stroke="#000" stroke-width="2.6" stroke-linecap="round" stroke-dasharray="0.01 5.42"/>
<path d="M1087.19 2068.2V2022.6M1072.31 2022.6H1102.07" fill="none" stroke="#6e6e6e" stroke-width="2"/>
<path d="M1177.04 2235.4V2215.4M1162.16 2215.4H1191.92" fill="none" stroke="#262626" stroke-width="2"/>
<rect x="1057.43" y="2068.4" width="59.52" height="200.9" fill="#adadad" stroke="#404040" stroke-width="2.4"/>
<rect x="1055.23" y="2142.2" width="63.92" height="5.6" fill="#fff"/>
<rect x="1147.28" y="2235.6" width="59.52" height="33.7" fill="#000000" stroke="#808080" stroke-width="2.4"/>
<path d="M1042.5 2001.25V2142.4M1042.5 2147.4V2270.55" fill="none" stroke="#000" stroke-width="2.5"/>
<path d="M1034.82 2142.4H1050.18M1034.82 2147.4H1050.18" fill="none" stroke="#000" stroke-width="2.5"/>
<path d="M1034.15 2269.3H1221.5" fill="none" stroke="#000" stroke-width="2.5"/>
<path d="M1034.15 2002.5H1042.5M1034.15 2089.2H1042.5M1034.15 2208.4H1042.5M1087.19 2269.3V2277.86M1177.04 2269.3V2277.86" fill="none" stroke="#000" stroke-width="2.5"/>
<text x="1033.49" y="2009.97" font-size="20.54" text-anchor="end" class="k">10</text>
<text x="1033.49" y="2096.67" font-size="20.54" text-anchor="end" class="k">5</text>
<text x="1033.49" y="2154.47" font-size="20.54" text-anchor="end" class="k">2</text>
<text x="1033.49" y="2215.87" font-size="20.54" text-anchor="end" class="k">1</text>
<text x="1033.49" y="2277.57" font-size="20.54" text-anchor="end" class="k">0</text>
<text transform="translate(985.4 2136.48) rotate(-90)" x="0" y="7.61" font-size="21.87" text-anchor="middle" class="k">Fold change</text>
<text transform="translate(1132.41 1971.5) scale(1 1.05)" font-size="25.58" text-anchor="middle" class="t" style="white-space:pre">HDAC 11</text>
<path d="M1085.08 2005.19H1177.79" fill="none" stroke="#111" stroke-width="2.2"/>
<path d="M1085.08 1998.79V2011.59M1177.79 1998.79V2011.59" fill="none" stroke="#3a3a3a" stroke-width="1.5"/>
<text x="1126.28" y="2003.65" font-size="26.75" text-anchor="middle" class="a">*</text>
</g>
<g><circle cx="1067" cy="153" r="2.25" fill="#000"/>
<circle cx="1076.6" cy="153" r="2.25" fill="#000"/>
<circle cx="1086.2" cy="153" r="2.25" fill="#000"/>
<circle cx="1095.8" cy="153" r="2.25" fill="#000"/>
<circle cx="1105.4" cy="153" r="2.25" fill="#000"/>
<text x="1121.7" y="161" font-size="25" textLength="26.6" lengthAdjust="spacingAndGlyphs" class="k">NI</text>
<rect x="1063.8" y="179.7" width="45.6" height="25.6" fill="#adadad" stroke="#1f1f1f" stroke-width="2.4"/>
<text x="1121.3" y="203.1" font-size="25" textLength="194.3" lengthAdjust="spacingAndGlyphs" class="k">HIV - sCD163 low</text>
<rect x="1063" y="222.1" width="48" height="28.5" fill="#000"/>
<text x="1121.3" y="243.8" font-size="25" textLength="202.1" lengthAdjust="spacingAndGlyphs" class="k">HIV - sCD163 high</text></g>
<g><circle cx="1063" cy="1513" r="2.25" fill="#000"/>
<circle cx="1072.6" cy="1513" r="2.25" fill="#000"/>
<circle cx="1082.2" cy="1513" r="2.25" fill="#000"/>
<circle cx="1091.8" cy="1513" r="2.25" fill="#000"/>
<circle cx="1101.4" cy="1513" r="2.25" fill="#000"/>
<text x="1117.7" y="1521" font-size="25" textLength="26.6" lengthAdjust="spacingAndGlyphs" class="k">NI</text>
<rect x="1059.8" y="1539.7" width="45.6" height="25.6" fill="#adadad" stroke="#1f1f1f" stroke-width="2.4"/>
<text x="1117.3" y="1563.1" font-size="25" textLength="194.3" lengthAdjust="spacingAndGlyphs" class="k">HIV - sCD163 low</text>
<rect x="1059" y="1582.1" width="48" height="28.5" fill="#000"/>
<text x="1117.3" y="1603.8" font-size="25" textLength="202.1" lengthAdjust="spacingAndGlyphs" class="k">HIV - sCD163 high</text></g>
</svg>
</body>
</html>
